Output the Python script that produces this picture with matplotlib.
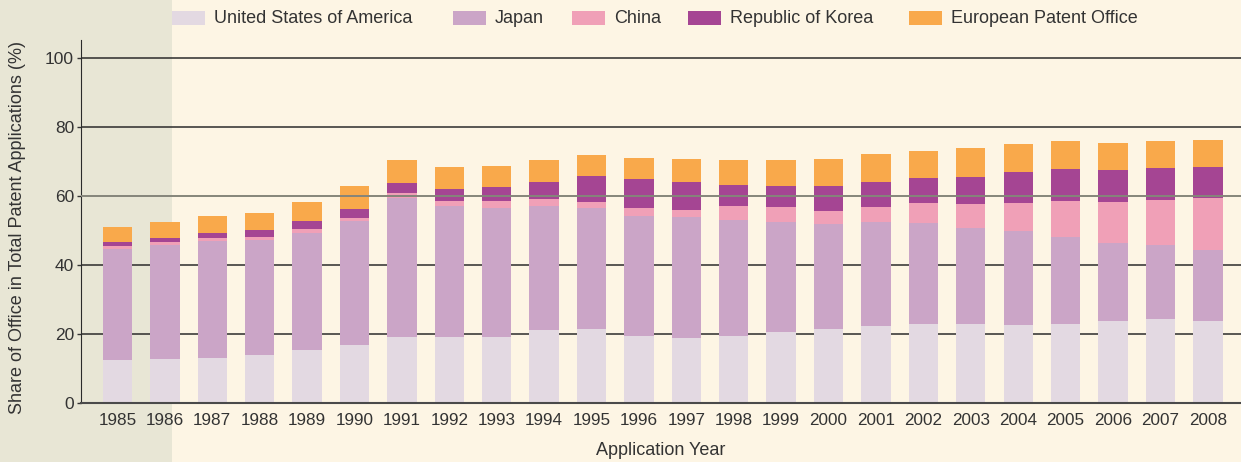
import numpy as np
import matplotlib
matplotlib.use('Agg')
import matplotlib.pyplot as plt
from matplotlib.patches import Rectangle

plt.rcParams['font.family'] = ['Liberation Sans', 'DejaVu Sans']

# data (share of office in total patent applications, %)
years = [str(y) for y in range(1985, 2009)]
usa = [12.6, 12.7, 13.1, 14.1, 15.5, 17.0, 19.2, 19.2, 19.2, 21.2, 21.5, 19.4,
       18.9, 19.6, 20.8, 21.4, 22.5, 23.1, 23.1, 22.6, 23.1, 23.9, 24.5, 23.9]
japan = [32.1, 33.2, 33.9, 33.1, 33.9, 35.7, 40.4, 38.1, 37.4, 36.1, 35.1, 35.0,
         35.0, 33.5, 31.8, 30.5, 30.0, 29.2, 27.8, 27.3, 25.2, 22.6, 21.4, 20.5]
china = [0.9, 0.9, 0.8, 1.0, 1.0, 1.0, 1.3, 1.3, 2.1, 2.0, 1.7, 2.1,
         2.1, 4.0, 4.2, 3.8, 4.4, 5.7, 6.9, 8.2, 10.2, 11.8, 13.0, 15.2]
korea = [1.2, 1.2, 1.6, 2.0, 2.3, 2.6, 3.0, 3.4, 3.9, 4.7, 7.7, 8.4,
         8.0, 6.2, 6.3, 7.4, 7.2, 7.3, 7.9, 8.9, 9.5, 9.4, 9.2, 9.0]
epo = [4.3, 4.6, 4.8, 5.0, 5.7, 6.6, 6.5, 6.5, 6.2, 6.5, 6.0, 6.2,
       6.8, 7.1, 7.3, 7.7, 8.1, 7.7, 8.2, 8.3, 7.9, 7.8, 7.8, 7.7]

series = [('United States of America', usa, '#e3d9e2'),
          ('Japan', japan, '#cba5c7'),
          ('China', china, '#f0a0b7'),
          ('Republic of Korea', korea, '#a54593'),
          ('European Patent Office', epo, '#f9a94b')]

bg = '#fdf5e4'
shade = '#e8e6d5'
txt = '#333333'

fig = plt.figure(figsize=(12.41, 4.62), dpi=100)
fig.patch.set_facecolor(bg)
# shaded band on the left
fig.patches.append(Rectangle((0, 0), 172 / 1241, 1, transform=fig.transFigure,
                             facecolor=shade, edgecolor='none', zorder=-10))

ax = fig.add_axes([81 / 1241, 1 - 403.3 / 462, 1 - 81 / 1241, (403.3 - 40) / 462])
ax.set_facecolor('none')

x = np.arange(len(years))
bottom = np.zeros(len(years))
for name, vals, col in series:
    ax.bar(x, vals, width=0.62, bottom=bottom, color=col, edgecolor='none',
           zorder=3, label=name)
    bottom += np.array(vals)

for v in [20, 40, 80, 100]:
    ax.axhline(v, color='#2b2b2b', lw=1.1, zorder=1)
ax.axhline(60, color='#85857a', lw=1.4, zorder=4)

ax.set_xlim(-0.77, 23.70)
ax.set_ylim(0, 105.3)
ax.set_yticks([0, 20, 40, 60, 80, 100])
ax.set_xticks(x)
ax.set_xticklabels(years)
ax.tick_params(axis='x', length=0, pad=7, labelsize=12.3, labelcolor=txt)
ax.tick_params(axis='y', length=3, width=1, color=txt, pad=2, labelsize=12.5, labelcolor=txt)

for s in ['top', 'right']:
    ax.spines[s].set_visible(False)
ax.spines['left'].set_color('#2b2b2b')
ax.spines['bottom'].set_color('#4a4a4a')
ax.spines['bottom'].set_linewidth(1.5)
ax.spines['bottom'].set_zorder(5)

ax.set_xlabel('Application Year', fontsize=13, color=txt, labelpad=10)
fig.text(18 / 1241, 1 - 227 / 462, 'Share of Office in Total Patent Applications (%)',
         rotation=90, ha='center', va='center', fontsize=13, color=txt)

# legend across the top
leg_x = [172, 453, 572, 688, 909]
for (name, vals, col), lx in zip(series, leg_x):
    fig.patches.append(Rectangle((lx / 1241, 1 - 25 / 462), 33 / 1241, 14 / 462,
                                 transform=fig.transFigure, facecolor=col,
                                 edgecolor='none'))
    fig.text((lx + 42) / 1241, 1 - 18.5 / 462, name, ha='left', va='center',
             fontsize=13, color=txt)

fig.savefig('out.png', dpi=100, facecolor=bg)
